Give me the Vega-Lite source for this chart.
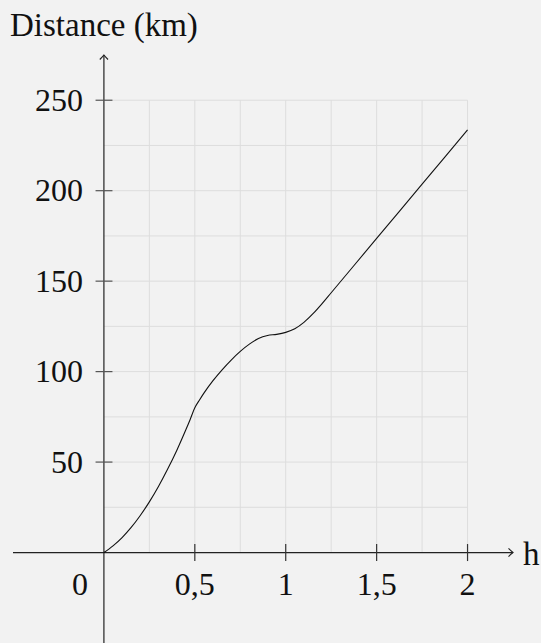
{
  "$schema": "https://vega.github.io/schema/vega-lite/v6.json",
  "width": 500,
  "height": 588,
  "autosize": {"type": "none"},
  "padding": {"left": 13, "top": 55, "right": 28, "bottom": 0},
  "background": "#f2f2f2",
  "config": {"view": {"stroke": null}},
  "layer": [
    {
      "data": {"values": [{"x": 0.25}, {"x": 0.5}, {"x": 0.75}, {"x": 1}, {"x": 1.25}, {"x": 1.5}, {"x": 1.75}, {"x": 2}]},
      "mark": {"type": "rule", "color": "#dddddd", "strokeWidth": 1},
      "encoding": {
        "x": {"field": "x", "type": "quantitative", "scale": {"domain": [-0.5, 2.25], "nice": false, "zero": false}, "axis": null},
        "y": {"datum": 0, "type": "quantitative", "scale": {"domain": [-50, 275], "nice": false, "zero": false}, "axis": null},
        "y2": {"datum": 250}
      }
    },
    {
      "data": {"values": [{"y": 25}, {"y": 50}, {"y": 75}, {"y": 100}, {"y": 125}, {"y": 150}, {"y": 175}, {"y": 200}, {"y": 225}, {"y": 250}]},
      "mark": {"type": "rule", "color": "#dddddd", "strokeWidth": 1},
      "encoding": {
        "y": {"field": "y", "type": "quantitative", "axis": null},
        "x": {"datum": 0, "type": "quantitative", "axis": null},
        "x2": {"datum": 2}
      }
    },
    {
      "data": {"values": [{"x": -0.5, "x2": 2.25, "y": 0}]},
      "mark": {"type": "rule", "color": "#222222", "strokeWidth": 1.2},
      "encoding": {
        "x": {"field": "x", "type": "quantitative", "axis": null},
        "x2": {"field": "x2"},
        "y": {"field": "y", "type": "quantitative", "axis": null}
      }
    },
    {
      "data": {"values": [{"x": 0, "y": -50, "y2": 275}]},
      "mark": {"type": "rule", "color": "#222222", "strokeWidth": 1.2},
      "encoding": {
        "x": {"field": "x", "type": "quantitative", "axis": null},
        "y": {"field": "y", "type": "quantitative", "axis": null},
        "y2": {"field": "y2"}
      }
    },
    {
      "data": {"values": [{"x": 0.5}, {"x": 1}, {"x": 1.5}, {"x": 2}]},
      "mark": {"type": "rule", "color": "#333333", "strokeWidth": 1.2},
      "encoding": {
        "x": {"field": "x", "type": "quantitative", "axis": null},
        "y": {"datum": -4.7, "type": "quantitative", "axis": null},
        "y2": {"datum": 4.7}
      }
    },
    {
      "data": {"values": [{"y": 50}, {"y": 100}, {"y": 150}, {"y": 200}, {"y": 250}]},
      "mark": {"type": "rule", "color": "#555555", "strokeWidth": 1.2},
      "encoding": {
        "y": {"field": "y", "type": "quantitative", "axis": null},
        "x": {"datum": -0.046, "type": "quantitative", "axis": null},
        "x2": {"datum": 0.047}
      }
    },
    {
      "data": {"values": [
        {"t": 0, "d": 0}, {"t": 0.05, "d": 3.7}, {"t": 0.1, "d": 8.3}, {"t": 0.15, "d": 13.9},
        {"t": 0.2, "d": 20.5}, {"t": 0.25, "d": 28}, {"t": 0.3, "d": 36.5}, {"t": 0.35, "d": 46},
        {"t": 0.4, "d": 56.3}, {"t": 0.45, "d": 67.7}, {"t": 0.475, "d": 73.7}, {"t": 0.5, "d": 80},
        {"t": 0.525, "d": 84.2}, {"t": 0.55, "d": 88.1},
        {"t": 0.6, "d": 95}, {"t": 0.65, "d": 101}, {"t": 0.7, "d": 106.4}, {"t": 0.75, "d": 111.2},
        {"t": 0.8, "d": 115.2}, {"t": 0.85, "d": 118.3}, {"t": 0.9, "d": 120}, {"t": 0.95, "d": 120.6},
        {"t": 1.0, "d": 121.7}, {"t": 1.05, "d": 123.7}, {"t": 1.1, "d": 127.2}, {"t": 1.15, "d": 132},
        {"t": 1.2, "d": 137.6}, {"t": 1.25, "d": 143.6}, {"t": 1.5, "d": 173.6}, {"t": 1.75, "d": 203.6},
        {"t": 2.0, "d": 233.6}
      ]},
      "mark": {"type": "line", "color": "#111111", "strokeWidth": 1.1, "interpolate": "monotone"},
      "encoding": {
        "x": {"field": "t", "type": "quantitative", "axis": null},
        "y": {"field": "d", "type": "quantitative", "axis": null}
      }
    },
    {
      "data": {"values": [{"x": 2.25, "y": 0}]},
      "mark": {"type": "point", "shape": "M-1.2,-1.1Q-0.4,-0.3,0,0Q-0.4,0.3,-1.2,1.1", "filled": false, "stroke": "#222222", "strokeWidth": 1.1, "size": 56, "opacity": 1},
      "encoding": {
        "x": {"field": "x", "type": "quantitative", "axis": null},
        "y": {"field": "y", "type": "quantitative", "axis": null}
      }
    },
    {
      "data": {"values": [{"x": 0, "y": 275}]},
      "mark": {"type": "point", "shape": "M-1.1,1.2Q-0.3,0.4,0,0Q0.3,0.4,1.1,1.2", "filled": false, "stroke": "#222222", "strokeWidth": 1.1, "size": 56, "opacity": 1},
      "encoding": {
        "x": {"field": "x", "type": "quantitative", "axis": null},
        "y": {"field": "y", "type": "quantitative", "axis": null}
      }
    },
    {
      "data": {"values": [{"x": 0.5, "label": "0,5"}, {"x": 1, "label": "1"}, {"x": 1.5, "label": "1,5"}, {"x": 2, "label": "2"}]},
      "mark": {"type": "text", "font": "Liberation Serif", "fontSize": 32, "color": "#111111", "align": "center", "baseline": "alphabetic", "dy": 42.5},
      "encoding": {
        "x": {"field": "x", "type": "quantitative", "axis": null},
        "y": {"datum": 0, "type": "quantitative", "axis": null},
        "text": {"field": "label"}
      }
    },
    {
      "data": {"values": [{"x": 0, "y": 0, "label": "0"}]},
      "mark": {"type": "text", "font": "Liberation Serif", "fontSize": 32, "color": "#111111", "align": "center", "baseline": "alphabetic", "dx": -24, "dy": 42.5},
      "encoding": {
        "x": {"field": "x", "type": "quantitative", "axis": null},
        "y": {"field": "y", "type": "quantitative", "axis": null},
        "text": {"field": "label"}
      }
    },
    {
      "data": {"values": [{"y": 50, "label": "50"}, {"y": 100, "label": "100"}, {"y": 150, "label": "150"}, {"y": 200, "label": "200"}, {"y": 250, "label": "250"}]},
      "mark": {"type": "text", "font": "Liberation Serif", "fontSize": 32, "color": "#111111", "align": "right", "baseline": "alphabetic", "dx": -21, "dy": 10.8},
      "encoding": {
        "y": {"field": "y", "type": "quantitative", "axis": null},
        "x": {"datum": 0, "type": "quantitative", "axis": null},
        "text": {"field": "label"}
      }
    },
    {
      "data": {"values": [{"x": 2.25, "y": 0, "label": "h"}]},
      "mark": {"type": "text", "font": "Liberation Serif", "fontSize": 33, "color": "#111111", "align": "left", "baseline": "alphabetic", "dx": 10, "dy": 12.5},
      "encoding": {
        "x": {"field": "x", "type": "quantitative", "axis": null},
        "y": {"field": "y", "type": "quantitative", "axis": null},
        "text": {"field": "label"}
      }
    },
    {
      "data": {"values": [{"x": 0, "y": 275, "label": "Distance (km)"}]},
      "mark": {"type": "text", "font": "Liberation Serif", "fontSize": 33, "color": "#111111", "align": "center", "baseline": "alphabetic", "dy": -19},
      "encoding": {
        "x": {"field": "x", "type": "quantitative", "axis": null},
        "y": {"field": "y", "type": "quantitative", "axis": null},
        "text": {"field": "label"}
      }
    }
  ]
}
